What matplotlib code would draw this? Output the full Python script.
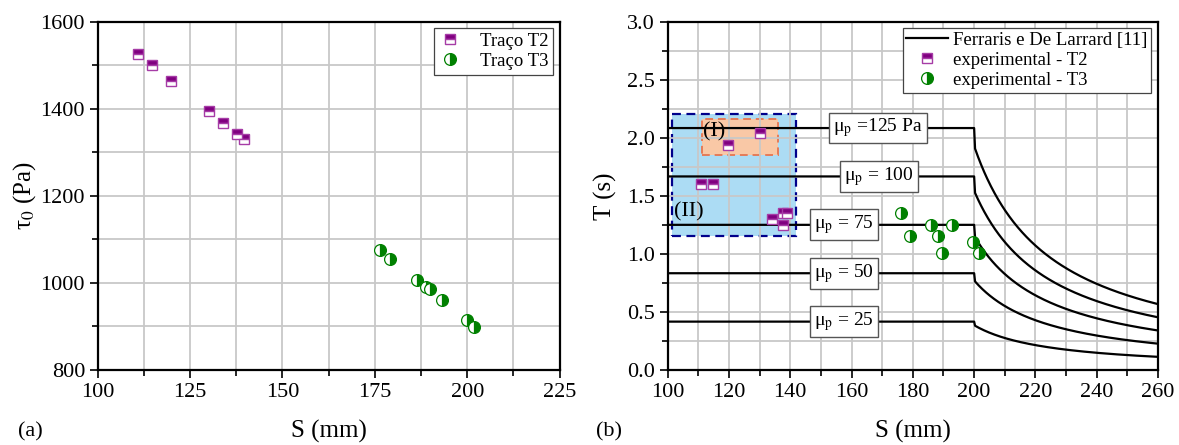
import numpy as np
import matplotlib
matplotlib.use('Agg')
import matplotlib.pyplot as plt
from matplotlib.patches import Rectangle
from matplotlib.ticker import MultipleLocator, FormatStrFormatter

plt.rcParams['font.family'] = ['Liberation Serif', 'DejaVu Serif']
plt.rcParams['mathtext.fontset'] = 'stix'

# ---------------- data: panel (a) ----------------
s_t2_a = [111.0, 114.7, 120.0, 130.2, 134.0, 137.7, 139.5]
tau_t2 = [1525, 1500, 1464, 1394, 1366, 1342, 1330]
s_t3_a = [176.4, 179.1, 186.4, 188.9, 189.8, 193.1, 199.9, 201.9]
tau_t3 = [1075, 1056, 1006, 990, 985, 960, 914, 899]

# ---------------- data: panel (b) ----------------
s_t2_b = [110.8, 114.7, 119.7, 130.1, 134.0, 137.5, 137.7, 139.1]
T_t2 = [1.60, 1.60, 1.94, 2.04, 1.30, 1.25, 1.35, 1.35]
s_t3_b = [176.1, 179.0, 186.0, 188.3, 189.6, 192.8, 199.5, 201.5]
T_t3 = [1.35, 1.15, 1.25, 1.15, 1.01, 1.25, 1.10, 1.01]

# Ferraris & De Larrard model parameters
mu_p = [125, 100, 75, 50, 25]
mu_labels = ['μ$_\\mathrm{p}$ =125 Pa', 'μ$_\\mathrm{p}$ = 100', 'μ$_\\mathrm{p}$ = 75',
             'μ$_\\mathrm{p}$ = 50', 'μ$_\\mathrm{p}$ = 25']
mu_label_s = [168.7, 169.0, 157.5, 157.5, 157.5]
rho = 2400.0

PURPLE = '#800080'
PURPLE_EDGE = '#a63ca6'
GREEN = '#008000'
GRID = '#c8c8c8'

fig = plt.figure(figsize=(11.79, 4.45), dpi=100)
ax1 = fig.add_axes([0.0827, 0.1685, 0.392, 0.783])
ax2 = fig.add_axes([0.5663, 0.1685, 0.4159, 0.783])

t2_style = dict(ls='none', marker='s', ms=7.5, fillstyle='top', mfc=PURPLE,
                mfcalt='white', mec=PURPLE_EDGE, mew=1.0)
t3_style = dict(ls='none', marker='o', ms=8.5, fillstyle='right', mfc=GREEN,
                mfcalt='white', mec=GREEN, mew=0.9)

for ax in (ax1, ax2):
    ax.grid(True, which='both', color=GRID, lw=1.3)
    ax.set_axisbelow(True)
    ax.tick_params(which='major', direction='out', length=6, width=1.2,
                   labelsize=16, top=False, right=False, pad=3)
    ax.tick_params(which='minor', direction='out', length=4, width=1.2,
                   top=False, right=False)
    for sp in ax.spines.values():
        sp.set_linewidth(1.6)

# ---------------- panel (a) ----------------
ax1.plot(s_t2_a, tau_t2, label='Traço T2', zorder=4, **t2_style)
ax1.plot(s_t3_a, tau_t3, label='Traço T3', zorder=4, **t3_style)
ax1.set_xlim(100, 225)
ax1.set_ylim(800, 1600)
ax1.xaxis.set_major_locator(MultipleLocator(25))
ax1.xaxis.set_minor_locator(MultipleLocator(12.5))
ax1.yaxis.set_major_locator(MultipleLocator(200))
ax1.yaxis.set_minor_locator(MultipleLocator(100))
leg1 = ax1.legend(loc='upper right', fontsize=13.5, fancybox=False, edgecolor='#444444',
                  framealpha=1, borderaxespad=0.35, borderpad=0.25, labelspacing=0.15,
                  handletextpad=1.0, handlelength=1.2)
leg1.get_frame().set_linewidth(0.9)

# ---------------- panel (b) ----------------
ax2.add_patch(Rectangle((101.3, 1.15), 142.0 - 101.3, 2.20 - 1.15, facecolor='#acdcf4',
                        edgecolor='#00008b', ls=(0, (4, 2.5)), lw=1.6, zorder=0.1))
ax2.add_patch(Rectangle((111.3, 1.85), 136.0 - 111.3, 2.16 - 1.85, facecolor='#f9c8a6',
                        edgecolor='#e57b58', ls=(0, (4, 2.5)), lw=1.4, zorder=0.2))

S = np.concatenate([np.linspace(100, 200, 101), np.linspace(200.3, 260, 300)])
for i, mu in enumerate(mu_p):
    T = np.where(S <= 200, mu / (rho * 0.025), mu / (rho * 1.08e-3 * (S - 175)))
    ax2.plot(S, T, color='black', lw=1.6, zorder=3,
             label='Ferraris e De Larrard [11]' if i == 0 else None)
    ax2.text(mu_label_s[i], mu / (rho * 0.025), mu_labels[i], fontsize=14,
             ha='center', va='center', zorder=5,
             bbox=dict(boxstyle='square,pad=0.2', fc='white', ec='#555555', lw=1.0))

ax2.plot(s_t2_b, T_t2, label='experimental - T2', zorder=4, **t2_style)
ax2.plot(s_t3_b, T_t3, label='experimental - T3', zorder=4, **t3_style)
ax2.text(115.2, 2.05, '(I)', fontsize=16, ha='center', va='center', zorder=5)
ax2.text(107.0, 1.36, '(II)', fontsize=16, ha='center', va='center', zorder=5)

ax2.set_xlim(100, 260)
ax2.set_ylim(0, 3.0)
ax2.xaxis.set_major_locator(MultipleLocator(20))
ax2.xaxis.set_minor_locator(MultipleLocator(10))
ax2.yaxis.set_major_locator(MultipleLocator(0.5))
ax2.yaxis.set_minor_locator(MultipleLocator(0.25))
ax2.yaxis.set_major_formatter(FormatStrFormatter('%.1f'))
leg2 = ax2.legend(loc='upper right', fontsize=13.5, fancybox=False, edgecolor='#444444',
                  framealpha=1, borderaxespad=0.35, borderpad=0.2, labelspacing=0.15,
                  handletextpad=0.3, handlelength=2.2)
leg2.get_frame().set_linewidth(0.9)

# ---------------- labels ----------------
fig.text(0.279, 0.03, 'S (mm)', fontsize=18, ha='center', va='center')
fig.text(0.774, 0.03, 'S (mm)', fontsize=18, ha='center', va='center')
fig.text(25 / 1179, 0.56, 'τ$_0$ (Pa)', fontsize=18, ha='center', va='center', rotation=90)
fig.text(605 / 1179, 0.56, 'T (s)', fontsize=18, ha='center', va='center', rotation=90)
fig.text(30 / 1179, 0.03, '(a)', fontsize=16, ha='center', va='center')
fig.text(609 / 1179, 0.03, '(b)', fontsize=16, ha='center', va='center')

fig.savefig('out.png', dpi=100)
